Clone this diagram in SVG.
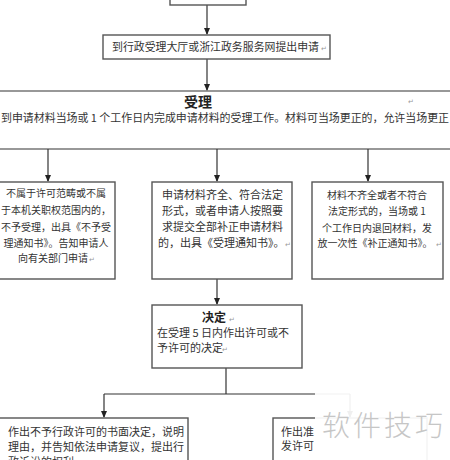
<svg xmlns="http://www.w3.org/2000/svg" width="450" height="460" viewBox="0 0 450 460">
<defs>
<marker id="ah" markerWidth="8" markerHeight="8" refX="6" refY="4" orient="auto" markerUnits="userSpaceOnUse">
<path d="M0,1 L7,4 L0,7 Z" fill="#222"/>
</marker>
<style>
.box{fill:#fff;stroke:#555;stroke-width:1.4}
.ln{fill:none;stroke:#333;stroke-width:1.2}
.t{font-family:"Noto Sans CJK SC","Liberation Sans",sans-serif;font-size:11px;fill:#333}
.s{font-size:10px}
.b{font-family:"Noto Sans CJK SC","Liberation Sans",sans-serif;font-weight:bold;fill:#222}
.pm{font-family:"DejaVu Sans",sans-serif;font-size:7px;fill:#999}
.c{text-anchor:middle}
</style>
</defs>
<rect width="450" height="460" fill="#fff"/>
<g id="connectors">
<line class="ln" x1="207" y1="5" x2="207" y2="34" marker-end="url(#ah)"/>
<line class="ln" x1="207" y1="59" x2="207" y2="90" marker-end="url(#ah)"/>
<line class="ln" x1="0" y1="91" x2="450" y2="91"/>
<line class="ln" x1="0" y1="149" x2="450" y2="149"/>
<line class="ln" x1="48" y1="149" x2="48" y2="181" marker-end="url(#ah)"/>
<line class="ln" x1="217" y1="149" x2="217" y2="181" marker-end="url(#ah)"/>
<line class="ln" x1="368" y1="149" x2="368" y2="181" marker-end="url(#ah)"/>
<line class="ln" x1="217" y1="279" x2="217" y2="304" marker-end="url(#ah)"/>
<polyline class="ln" points="226,368 226,394"/>
<line class="ln" x1="104" y1="394" x2="350" y2="394"/>
<line class="ln" x1="104" y1="394" x2="104" y2="417" marker-end="url(#ah)"/>
<line class="ln" x1="350" y1="394" x2="350" y2="417" marker-end="url(#ah)"/>
</g>
<g id="top">
<rect class="box" x="170" y="-10" width="76" height="15"/>
</g>
<g id="apply">
<rect class="box" x="103" y="35" width="227" height="24"/>
<text class="t" x="112" y="51" textLength="207" lengthAdjust="spacingAndGlyphs">到行政受理大厅或浙江政务服务网提出申请</text>
<text class="pm" x="321" y="51">↵</text>
</g>
<g id="accept">
<text class="b c" x="198" y="107" font-size="14">受理</text>
<text class="pm" x="408" y="104">↵</text>
<text class="t" x="1" y="122" textLength="448" lengthAdjust="spacingAndGlyphs">到申请材料当场或 1 个工作日内完成申请材料的受理工作。材料可当场更正的，允许当场更正</text>
</g>
<g id="reject">
<rect class="box" x="-2" y="182" width="117" height="97"/>
<text class="t s c" x="56" y="197">不属于许可范畴或不属</text>
<text class="t s c" x="56" y="214">于本机关职权范围内的，</text>
<text class="t s c" x="56" y="231">不予受理，出具《不予受</text>
<text class="t s c" x="56" y="247">理通知书》。告知申请人</text>
<text class="t s c" x="53" y="262">向有关部门申请</text>
<text class="pm" x="89" y="262">↵</text>
</g>
<g id="accepted">
<rect class="box" x="152" y="182" width="140" height="97"/>
<text class="t" x="162" y="199" font-size="10.6">申请材料齐全、符合法定</text>
<text class="t" x="162" y="215" font-size="10.6">形式，或者申请人按照要</text>
<text class="t" x="162" y="231" font-size="10.6">求提交全部补正申请材料</text>
<text class="t" x="158" y="247" font-size="10.6">的，出具《受理通知书》。</text>
<text class="pm" x="285" y="247">↵</text>
</g>
<g id="incomplete">
<rect class="box" x="312" y="182" width="131" height="97"/>
<text class="t s c" x="377" y="199">材料不齐全或者不符合</text>
<text class="t s c" x="377" y="215">法定形式的，当场或 1</text>
<text class="t s c" x="377" y="232">个工作日内退回材料，发</text>
<text class="t s c" x="375" y="247">放一次性《补正通知书》。</text>
<text class="pm" x="436" y="247">↵</text>
</g>
<g id="decision">
<rect class="box" x="152" y="305" width="150" height="63"/>
<text class="b c" x="214" y="322" font-size="12">决定</text>
<text class="pm" x="229" y="322">↵</text>
<text class="t" x="157" y="337" font-size="10.6">在受理 5 日内作出许可或不</text>
<text class="t" x="157" y="352" font-size="10.6">予许可的决定</text>
<text class="pm" x="222" y="352">↵</text>
</g>
<g id="deny">
<rect class="box" x="-2" y="418" width="190" height="60"/>
<text class="t" x="8" y="436">作出不予行政许可的书面决定，说明</text>
<text class="t" x="8" y="451">理由，并告知依法申请复议，提出行</text>
<text class="t" x="8" y="466">政诉讼的权利。</text>
</g>
<g id="grant">
<rect class="box" x="273" y="418" width="154" height="60"/>
<text class="t" x="281" y="436">作出准</text>
<text class="t" x="281" y="450">发许可</text>
</g>
<g id="watermark">
<rect x="315" y="386" width="135" height="74" fill="#fff" opacity="0.93"/>
<text x="322" y="436" font-family="Noto Sans CJK SC, sans-serif" font-weight="300" font-size="28" letter-spacing="3" fill="#c6c6c6">软件技巧</text>
</g>
</svg>
